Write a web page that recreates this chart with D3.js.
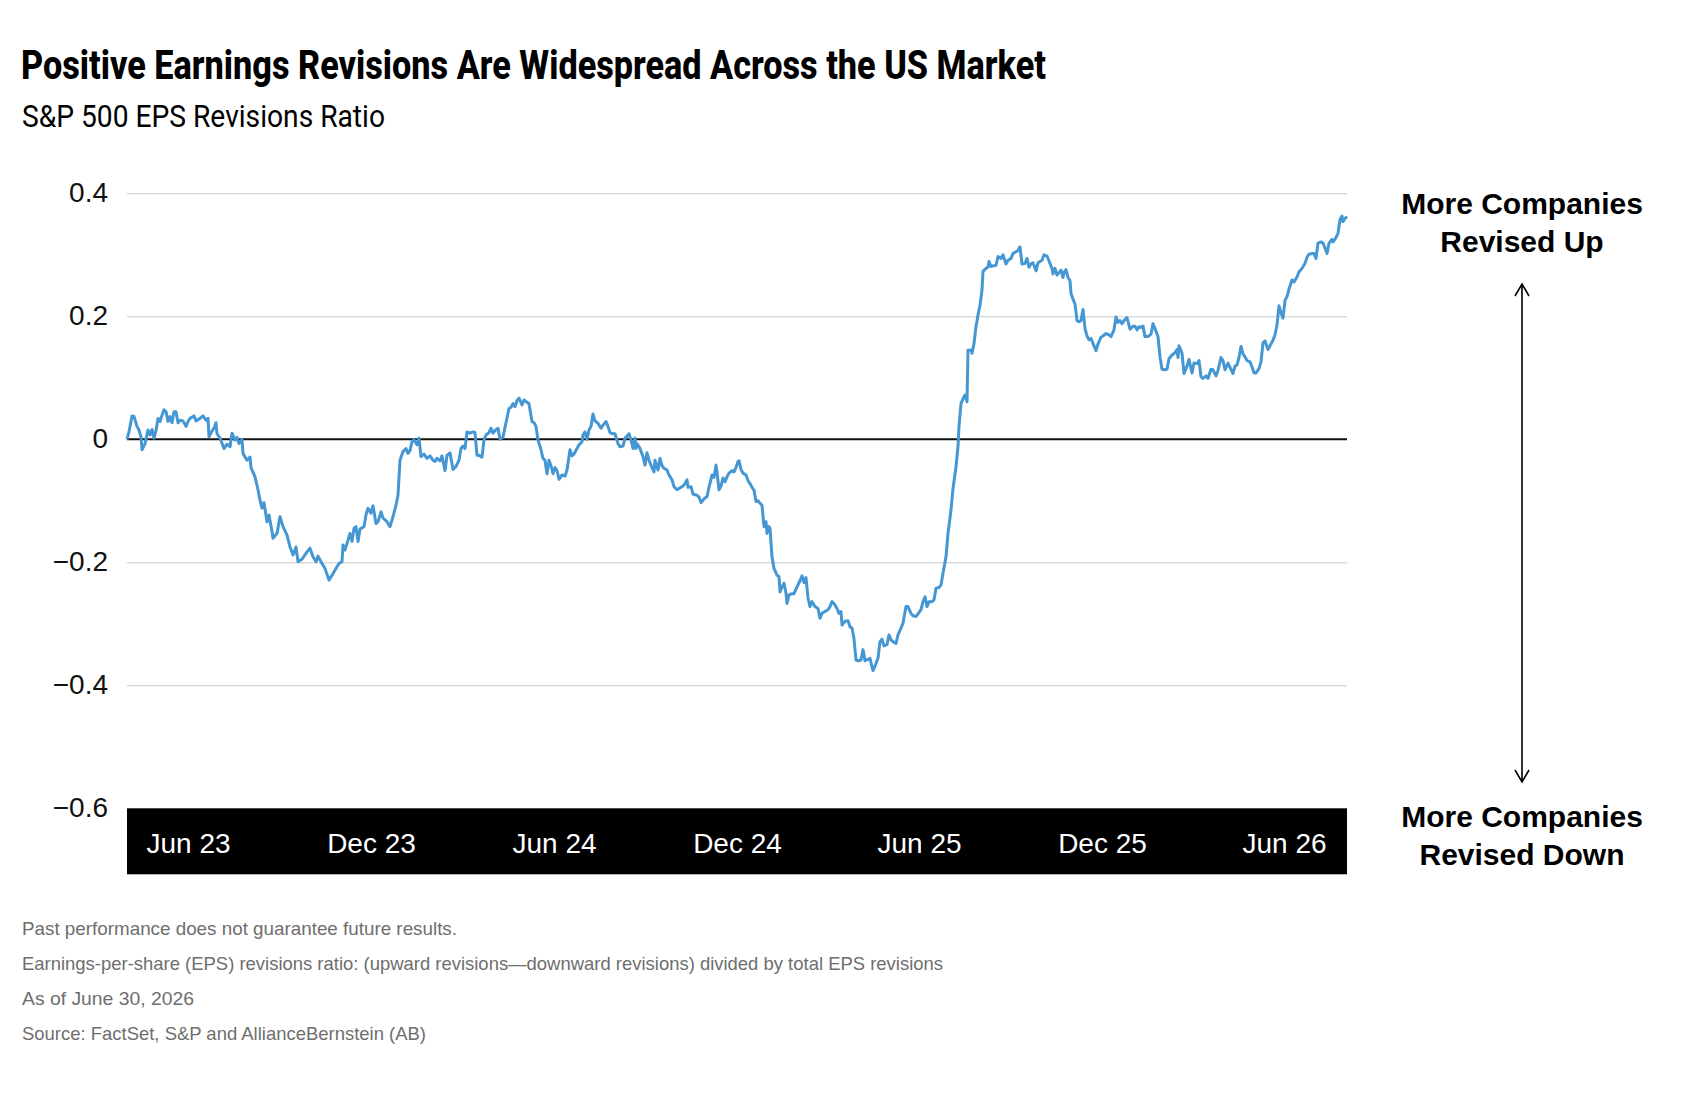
<!DOCTYPE html>
<html>
<head>
<meta charset="utf-8">
<script src="https://cdn.jsdelivr.net/npm/d3@7"></script>
<style>
  html, body { margin: 0; padding: 0; background: #fff; }
  svg { display: block; }
</style>
</head>
<body>
<svg id="chart"></svg>
<script>
// Series: S&P 500 EPS revisions ratio (day offset from start date, ratio)
const startDate = new Date(2023, 3, 1);
const lastDay = 1220;

const dayOffsets = [
  0, 2, 5, 7, 10, 12, 14, 15, 18, 21, 23, 25, 27, 29, 31, 33, 35, 37, 39, 41, 43, 45, 47, 49, 51, 53, 56, 59, 61, 63,
  67, 69, 73, 76, 79, 81, 82, 84, 87, 89, 90, 93, 97, 100, 103, 105, 108, 110, 112, 115, 116, 120, 123, 124, 128, 131, 133, 135, 137, 140,
  142, 145, 146, 150, 153, 156, 160, 163, 166, 169, 171, 175, 180, 183, 186, 189, 191, 195, 198, 202, 205, 209, 212, 215, 216, 218, 221, 223, 225, 227,
  229, 231, 233, 237, 239, 241, 244, 246, 249, 251, 254, 256, 260, 263, 266, 269, 271, 273, 276, 279, 281, 283, 285, 287, 290, 292, 294, 297, 300, 303,
  306, 308, 310, 313, 315, 318, 320, 323, 326, 329, 332, 334, 336, 338, 340, 343, 346, 348, 350, 352, 355, 357, 359, 362, 364, 366, 369, 371, 373, 376,
  379, 382, 384, 386, 388, 390, 392, 395, 397, 400, 402, 405, 407, 409, 411, 414, 416, 418, 420, 422, 424, 426, 428, 430, 432, 435, 438, 440, 443, 445,
  447, 450, 452, 455, 456, 458, 460, 462, 464, 466, 468, 471, 474, 476, 479, 481, 483, 486, 488, 491, 493, 496, 498, 500, 502, 504, 506, 508, 509, 510,
  513, 516, 518, 520, 522, 525, 527, 528, 531, 533, 535, 537, 540, 542, 545, 547, 550, 552, 556, 558, 560, 561, 564, 566, 570, 572, 574, 577, 580, 582,
  585, 587, 589, 590, 592, 594, 596, 598, 600, 602, 605, 607, 609, 611, 612, 614, 616, 619, 621, 623, 625, 627, 629, 631, 633, 635, 637, 639, 640, 642,
  643, 645, 647, 650, 652, 653, 655, 657, 659, 660, 662, 665, 667, 670, 673, 675, 677, 679, 681, 683, 685, 688, 691, 693, 695, 698, 701, 703, 705, 707,
  710, 712, 714, 715, 718, 721, 723, 725, 727, 729, 731, 734, 736, 738, 741, 743, 745, 746, 748, 751, 753, 755, 757, 760, 762, 764, 766, 769, 771, 774,
  776, 779, 781, 784, 786, 789, 791, 794, 796, 798, 800, 802, 805, 807, 809, 812, 814, 816, 819, 821, 824, 826, 829, 831, 832, 834, 836, 838, 840, 841,
  844, 845, 847, 849, 851, 853, 855, 856, 859, 861, 862, 864, 866, 869, 871, 874, 876, 879, 881, 884, 886, 889, 891, 893, 895, 898, 900, 902, 904, 906,
  909, 911, 913, 915, 917, 920, 922, 925, 926, 928, 930, 932, 934, 936, 937, 939, 941, 943, 944, 946, 948, 950, 952, 954, 956, 958, 960, 962, 964, 966,
  969, 971, 974, 976, 979, 982, 984, 987, 989, 991, 993, 995, 997, 1000, 1003, 1006, 1008, 1010, 1012, 1014, 1016, 1018, 1021, 1024, 1026, 1028, 1031, 1033, 1035, 1038,
  1040, 1042, 1045, 1048, 1050, 1051, 1052, 1055, 1057, 1060, 1062, 1065, 1067, 1070, 1072, 1074, 1076, 1079, 1081, 1084, 1086, 1089, 1091, 1094, 1096, 1098, 1101, 1103, 1106, 1108,
  1110, 1112, 1114, 1116, 1118, 1120, 1123, 1125, 1127, 1129, 1132, 1134, 1136, 1138, 1141, 1143, 1146, 1148, 1150, 1152, 1154, 1156, 1158, 1160, 1162, 1165, 1167, 1170, 1172, 1175,
  1178, 1180, 1182, 1185, 1187, 1189, 1191, 1194, 1196, 1198, 1200, 1202, 1205, 1206, 1209, 1211, 1213, 1215, 1216, 1218, 1220
];

const ratioValues = [
  0.000, 0.012, 0.038, 0.037, 0.021, 0.015, 0.004, -0.017, -0.007, 0.015, 0.007, 0.016, 0.002, 0.014, 0.034, 0.029, 0.039, 0.048, 0.045, 0.029, 0.037, 0.027, 0.045, 0.045, 0.027, 0.031, 0.030, 0.021, 0.029, 0.034,
  0.038, 0.030, 0.034, 0.038, 0.031, 0.034, 0.004, 0.011, 0.018, 0.027, 0.009, 0.002, -0.015, -0.008, -0.012, 0.010, -0.001, 0.003, -0.007, 0.000, -0.023, -0.034, -0.029, -0.046, -0.061, -0.082, -0.099, -0.112, -0.103, -0.134,
  -0.123, -0.150, -0.161, -0.153, -0.126, -0.142, -0.156, -0.175, -0.188, -0.175, -0.199, -0.195, -0.183, -0.177, -0.191, -0.199, -0.190, -0.202, -0.210, -0.229, -0.221, -0.210, -0.202, -0.199, -0.172, -0.180, -0.164, -0.153, -0.166, -0.145,
  -0.142, -0.166, -0.146, -0.142, -0.123, -0.112, -0.120, -0.108, -0.137, -0.134, -0.118, -0.128, -0.134, -0.142, -0.126, -0.107, -0.091, -0.034, -0.020, -0.015, -0.023, -0.018, -0.004, -0.001, -0.009, 0.002, -0.028, -0.024, -0.031, -0.027,
  -0.034, -0.036, -0.031, -0.035, -0.027, -0.051, -0.026, -0.022, -0.049, -0.044, -0.034, -0.015, -0.011, -0.015, 0.012, 0.010, 0.012, 0.011, -0.026, -0.026, -0.029, -0.001, 0.007, 0.011, 0.018, 0.010, 0.016, 0.018, 0.000, 0.004,
  0.027, 0.050, 0.052, 0.058, 0.053, 0.063, 0.067, 0.056, 0.064, 0.060, 0.058, 0.029, 0.027, 0.021, -0.001, -0.017, -0.031, -0.034, -0.056, -0.034, -0.043, -0.056, -0.046, -0.051, -0.065, -0.058, -0.060, -0.050, -0.017, -0.027,
  -0.024, -0.015, -0.009, -0.004, 0.007, 0.012, 0.000, 0.015, 0.021, 0.041, 0.030, 0.026, 0.018, 0.023, 0.029, 0.021, 0.011, 0.009, 0.009, -0.007, -0.012, -0.011, 0.002, 0.005, 0.009, -0.001, -0.015, 0.002, -0.015, -0.007,
  -0.015, -0.028, -0.042, -0.022, -0.034, -0.046, -0.053, -0.034, -0.050, -0.031, -0.043, -0.047, -0.050, -0.058, -0.066, -0.077, -0.082, -0.080, -0.076, -0.072, -0.066, -0.078, -0.077, -0.089, -0.091, -0.094, -0.103, -0.097, -0.093, -0.078,
  -0.058, -0.062, -0.042, -0.053, -0.082, -0.076, -0.063, -0.069, -0.061, -0.055, -0.051, -0.053, -0.046, -0.036, -0.035, -0.049, -0.055, -0.058, -0.067, -0.072, -0.078, -0.083, -0.101, -0.100, -0.104, -0.107, -0.142, -0.134, -0.153, -0.142,
  -0.145, -0.191, -0.210, -0.221, -0.223, -0.248, -0.240, -0.234, -0.250, -0.267, -0.253, -0.251, -0.251, -0.240, -0.230, -0.222, -0.233, -0.225, -0.258, -0.272, -0.264, -0.272, -0.275, -0.291, -0.283, -0.280, -0.277, -0.272, -0.264, -0.267,
  -0.275, -0.283, -0.280, -0.302, -0.296, -0.295, -0.305, -0.307, -0.324, -0.359, -0.360, -0.359, -0.342, -0.360, -0.358, -0.356, -0.370, -0.376, -0.369, -0.356, -0.329, -0.325, -0.336, -0.334, -0.318, -0.326, -0.329, -0.332, -0.318, -0.307,
  -0.299, -0.272, -0.272, -0.283, -0.287, -0.288, -0.284, -0.277, -0.264, -0.256, -0.272, -0.264, -0.264, -0.261, -0.242, -0.241, -0.237, -0.218, -0.191, -0.153, -0.115, -0.080, -0.045, -0.012, 0.021, 0.058, 0.066, 0.072, 0.061, 0.145,
  0.145, 0.140, 0.156, 0.183, 0.202, 0.218, 0.243, 0.273, 0.278, 0.280, 0.289, 0.281, 0.282, 0.283, 0.297, 0.294, 0.300, 0.285, 0.291, 0.294, 0.302, 0.305, 0.307, 0.313, 0.285, 0.286, 0.294, 0.280, 0.285, 0.287,
  0.274, 0.287, 0.289, 0.291, 0.300, 0.298, 0.290, 0.278, 0.269, 0.278, 0.267, 0.271, 0.275, 0.263, 0.271, 0.276, 0.263, 0.258, 0.237, 0.228, 0.220, 0.193, 0.191, 0.193, 0.211, 0.180, 0.168, 0.162, 0.164, 0.156,
  0.144, 0.155, 0.166, 0.168, 0.172, 0.170, 0.167, 0.178, 0.199, 0.190, 0.193, 0.188, 0.193, 0.198, 0.179, 0.184, 0.184, 0.178, 0.183, 0.182, 0.184, 0.167, 0.167, 0.171, 0.188, 0.180, 0.167, 0.134, 0.114, 0.113,
  0.114, 0.131, 0.137, 0.141, 0.146, 0.133, 0.152, 0.140, 0.107, 0.119, 0.130, 0.108, 0.124, 0.123, 0.128, 0.102, 0.099, 0.103, 0.099, 0.114, 0.113, 0.103, 0.112, 0.133, 0.128, 0.113, 0.124, 0.117, 0.107, 0.119,
  0.121, 0.133, 0.151, 0.139, 0.134, 0.128, 0.126, 0.118, 0.108, 0.108, 0.115, 0.126, 0.157, 0.160, 0.146, 0.152, 0.161, 0.170, 0.186, 0.217, 0.206, 0.197, 0.226, 0.232, 0.244, 0.259, 0.256, 0.264, 0.272, 0.278,
  0.286, 0.296, 0.301, 0.302, 0.302, 0.294, 0.319, 0.321, 0.319, 0.311, 0.302, 0.319, 0.325, 0.321, 0.328, 0.335, 0.357, 0.363, 0.354, 0.359, 0.362
];

// Axis ticks
const tickDates = ["2023-06-01", "2023-12-01", "2024-06-01", "2024-12-01", "2025-06-01", "2025-12-01", "2026-06-01"];
const tickLabels = ["Jun 23", "Dec 23", "Jun 24", "Dec 24", "Jun 25", "Dec 25", "Jun 26"];
const yTickValues = [0.4, 0.2, 0, -0.2, -0.4, -0.6];
const gridValues = [0.4, 0.2, -0.2, -0.4];

// Text
const titleText = "Positive Earnings Revisions Are Widespread Across the US Market";
const subtitleText = "S&P 500 EPS Revisions Ratio";
const upLabel = ["More Companies", "Revised Up"];
const downLabel = ["More Companies", "Revised Down"];
const footnotes = [
  "Past performance does not guarantee future results.",
  "Earnings-per-share (EPS) revisions ratio: (upward revisions\u2014downward revisions) divided by total EPS revisions",
  "As of June 30, 2026",
  "Source: FactSet, S&P and AllianceBernstein (AB)"
];
const footnoteWidths = [435, 921, 172, 404];

// Layout
const width = 1700;
const height = 1102;
const plotLeft = 127, plotRight = 1347;
const plotTop = 193.3, plotBottom = 808.3;
const bandHeight = 66;

const svg = d3.select("#chart")
  .attr("width", width)
  .attr("height", height);

const data = dayOffsets.map((d, i) => ({
  date: d3.timeDay.offset(startDate, d),
  value: ratioValues[i]
}));

const x = d3.scaleTime()
  .domain([startDate, d3.timeDay.offset(startDate, lastDay)])
  .range([plotLeft, plotRight]);

const y = d3.scaleLinear()
  .domain([-0.6, 0.4])
  .range([plotBottom, plotTop]);

// Title + subtitle (condensed look via textLength)
svg.append("text")
  .attr("x", 21).attr("y", 79)
  .attr("font-family", "Roboto, 'Liberation Sans', sans-serif")
  .attr("font-weight", 800)
  .attr("font-size", 40)
  .attr("fill", "#000")
  .attr("textLength", 1025)
  .attr("lengthAdjust", "spacingAndGlyphs")
  .text(titleText);

svg.append("text")
  .attr("x", 22).attr("y", 127)
  .attr("font-family", "Roboto, 'Liberation Sans', sans-serif")
  .attr("font-weight", 400)
  .attr("font-size", 31)
  .attr("fill", "#000")
  .attr("textLength", 363)
  .attr("lengthAdjust", "spacingAndGlyphs")
  .text(subtitleText);

// Gridlines
svg.append("g")
  .attr("transform", `translate(${plotLeft},0)`)
  .call(d3.axisLeft(y).tickValues(gridValues).tickSize(-(plotRight - plotLeft)).tickFormat(""))
  .call(g => g.select(".domain").remove())
  .call(g => g.selectAll("line").attr("stroke", "#c9c9c9").attr("stroke-width", 1));

// Y labels
const yFmt = d => d === 0 ? "0" : d3.format(".1f")(d);
svg.append("g")
  .attr("transform", `translate(${plotLeft},0)`)
  .call(d3.axisLeft(y).tickValues(yTickValues).tickSize(0).tickPadding(19).tickFormat(yFmt))
  .call(g => g.select(".domain").remove())
  .call(g => g.selectAll("text")
    .attr("dy", null)
    .attr("y", 8)
    .attr("font-family", "'Liberation Sans', Arial, sans-serif")
    .attr("font-size", 28)
    .attr("fill", "#111"));

// Zero line
svg.append("line")
  .attr("x1", plotLeft).attr("x2", plotRight)
  .attr("y1", y(0)).attr("y2", y(0))
  .attr("stroke", "#111")
  .attr("stroke-width", 2);

// Black date band
svg.append("rect")
  .attr("x", plotLeft).attr("y", plotBottom)
  .attr("width", plotRight - plotLeft).attr("height", bandHeight)
  .attr("fill", "#000");

svg.append("g")
  .attr("transform", `translate(0,${plotBottom})`)
  .call(d3.axisBottom(x)
    .tickValues(tickDates.map(d3.timeParse("%Y-%m-%d")))
    .tickFormat((d, i) => tickLabels[i])
    .tickSize(0))
  .call(g => g.select(".domain").remove())
  .call(g => g.selectAll("text")
    .attr("dy", null)
    .attr("y", 45)
    .attr("font-family", "'Liberation Sans', Arial, sans-serif")
    .attr("font-size", 28)
    .attr("fill", "#fff"));

// Revisions ratio line
const line = d3.line()
  .x(d => x(d.date))
  .y(d => y(d.value));

svg.append("path")
  .datum(data)
  .attr("d", line)
  .attr("fill", "none")
  .attr("stroke", "#4597d4")
  .attr("stroke-width", 3)
  .attr("stroke-linejoin", "round");

// Right-side annotation
const annX = 1522;
const ann = svg.append("g")
  .attr("font-family", "'Liberation Sans', Arial, sans-serif")
  .attr("font-weight", 700)
  .attr("font-size", 30)
  .attr("fill", "#000")
  .attr("text-anchor", "middle");

ann.selectAll("text.up")
  .data(upLabel)
  .enter().append("text")
  .attr("class", "up")
  .attr("x", annX)
  .attr("y", (d, i) => 214 + i * 38)
  .text(d => d);

ann.selectAll("text.down")
  .data(downLabel)
  .enter().append("text")
  .attr("class", "down")
  .attr("x", annX)
  .attr("y", (d, i) => 827 + i * 38)
  .text(d => d);

const arrowTop = 284, arrowBottom = 782;
svg.append("path")
  .attr("d", `M${annX},${arrowTop}V${arrowBottom}` +
    `M${annX - 7},${arrowTop + 12}L${annX},${arrowTop}L${annX + 7},${arrowTop + 12}` +
    `M${annX - 7},${arrowBottom - 12}L${annX},${arrowBottom}L${annX + 7},${arrowBottom - 12}`)
  .attr("fill", "none")
  .attr("stroke", "#000")
  .attr("stroke-width", 1.6);

// Footnotes
svg.selectAll("text.note")
  .data(footnotes)
  .enter().append("text")
  .attr("class", "note")
  .attr("x", 22)
  .attr("y", (d, i) => 935 + i * 35)
  .attr("font-family", "'Liberation Sans', Arial, sans-serif")
  .attr("font-size", 19)
  .attr("fill", "#6e6e6e")
  .attr("textLength", (d, i) => footnoteWidths[i])
  .attr("lengthAdjust", "spacingAndGlyphs")
  .text(d => d);
</script>
</body>
</html>
